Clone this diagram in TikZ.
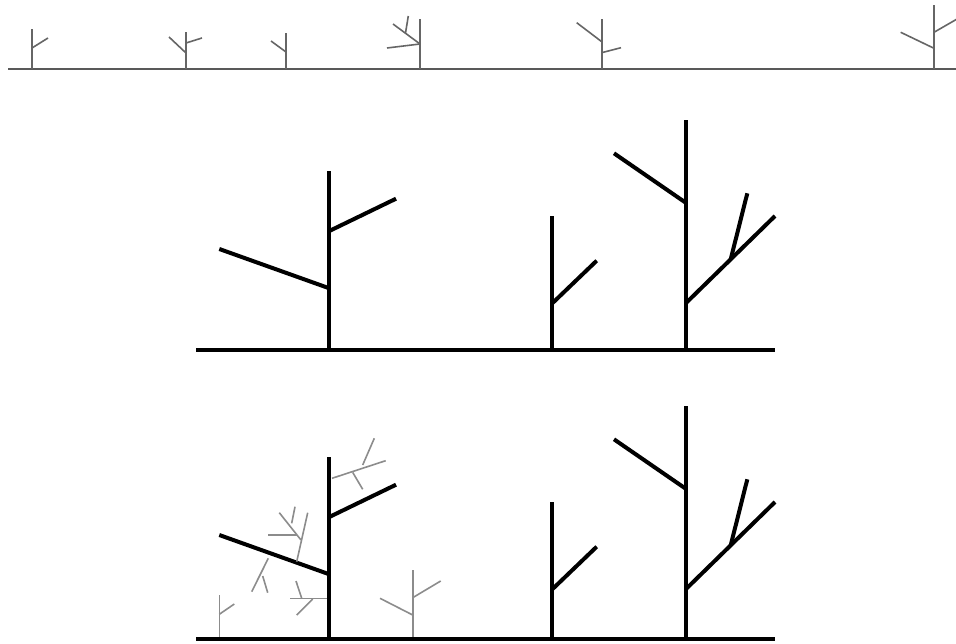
\documentclass[tikz,border=0pt]{standalone}
\begin{document}
\begin{tikzpicture}[x=1pt,y=-1pt,
  topline/.style={draw=black!60,line width=1.6pt},
  topground/.style={draw=black!65,line width=2pt},
  bigline/.style={draw=black,line width=4pt},
  smallgrey/.style={draw=black!45,line width=1.6pt}]
\useasboundingbox (0,0) rectangle (956,644);
\begin{scope}
\clip (0,0) rectangle (956,644);
% ---------- top row ----------
\draw[topground] (8,69) -- (956,69);
% tree 1
\draw[topline] (32,69) -- (32,29);
\draw[topline] (32,48) -- (48,38);
% tree 2
\draw[topline] (186,69) -- (186,32);
\draw[topline] (186,53) -- (169,37);
\draw[topline] (186,43) -- (202,38);
% tree 3
\draw[topline] (286,69) -- (286,33);
\draw[topline] (286,52) -- (271,41);
% tree 4
\draw[topline] (420,69) -- (420,19);
\draw[topline] (420,44) -- (387,48);
\draw[topline] (420,44) -- (393,24);
\draw[topline] (405.5,33) -- (408.3,16);
% tree 5
\draw[topline] (601.7,69) -- (601.7,19);
\draw[topline] (601.7,41.7) -- (576.7,22.7);
\draw[topline] (601.7,52.7) -- (621,47.7);
% tree 6
\draw[topline] (934,69) -- (934,5);
\draw[topline] (934,48.3) -- (900.7,32.3);
\draw[topline] (934,32.3) -- (960,17.3);
% ---------- middle and bottom rows: big trees ----------
\foreach \dy in {0,286}{
\begin{scope}[shift={(0,\dy)}]
\draw[bigline] (329.3,350) -- (329.3,170.7);
\draw[bigline] (329.3,288.3) -- (219.3,249);
\draw[bigline] (329.3,231) -- (396,198.7);
\draw[bigline] (552.3,350) -- (552.3,216);
\draw[bigline] (552.3,303.3) -- (596.7,260.7);
\draw[bigline] (685.7,350) -- (685.7,120);
\draw[bigline] (685.7,202.7) -- (614,153.3);
\draw[bigline] (685.7,303.3) -- (775,216);
\draw[bigline] (730.7,259.3) -- (747.3,193.3);
\end{scope}}
\draw[bigline] (196,350.5) -- (775,350.5);
% bottom trunks extend to the lower ground
\draw[bigline] (329.3,630) -- (329.3,638);
\draw[bigline] (552.3,630) -- (552.3,638);
\draw[bigline] (685.7,630) -- (685.7,638);
% ---------- bottom row: small grey trees ----------
% free-standing small tree left
\draw[smallgrey] (219.3,638) -- (219.3,595);
\draw[smallgrey] (219.3,614.3) -- (234.3,604);
% free-standing small tree right
\draw[smallgrey] (412.7,638) -- (412.7,570);
\draw[smallgrey] (412.7,615) -- (380,598.3);
\draw[smallgrey] (412.7,597.7) -- (440.7,581);
% tree on trunk, lower
\draw[smallgrey] (327,598.3) -- (290,598.3);
\draw[smallgrey] (301.7,598.3) -- (296,581);
\draw[smallgrey] (312.7,599) -- (296.7,615);
% tree on trunk, upper
\draw[smallgrey] (332,478.3) -- (385.7,460.7);
\draw[smallgrey] (352.7,472.4) -- (362.7,489.3);
\draw[smallgrey] (362.7,465) -- (374.3,438.3);
% tree on left branch, upward
\draw[smallgrey] (296.7,561.7) -- (307.7,512.7);
\draw[smallgrey] (301,540) -- (279.3,512.7);
\draw[smallgrey] (296.6,535) -- (268.3,535);
\draw[smallgrey] (291.7,523.3) -- (295,506.7);
% tree on left branch, downward
\draw[smallgrey] (268.3,558.3) -- (251.7,591.7);
\draw[smallgrey] (262.7,576) -- (267.7,592.7);
% lower ground
\draw[bigline] (196,638.5) -- (775,638.5);
\end{scope}
\end{tikzpicture}
\end{document}
